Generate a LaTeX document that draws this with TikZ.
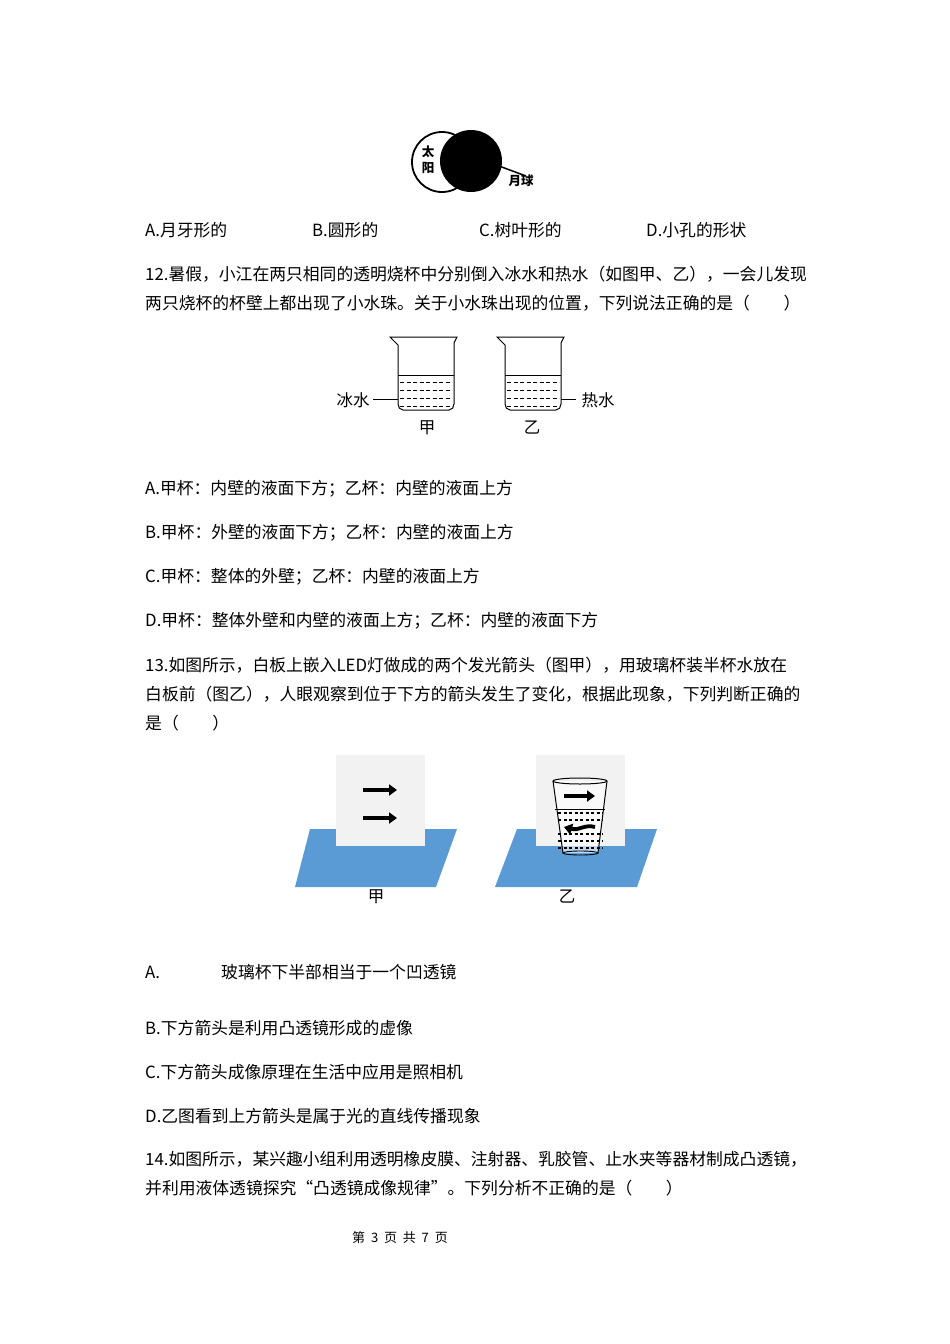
\documentclass[tikz,border=0pt]{standalone}
\usepackage{fontspec}
\setmainfont{Noto Sans CJK SC}
\usetikzlibrary{arrows.meta}
\definecolor{plane}{HTML}{5B9BD5}
\definecolor{board}{HTML}{F2F2F2}
\begin{document}
\begin{tikzpicture}[x=1pt,y=-1pt,
 txt/.style={anchor=west,inner sep=0pt,font=\fontsize{16.8}{16.8}\selectfont},
 lbl/.style={inner sep=0pt,font=\fontsize{16.5}{16.5}\selectfont},
 arr/.style={line width=3.8pt,-{Triangle[length=8pt,width=11pt]}}]
\useasboundingbox[fill=white] (0,0) rectangle (950,1344);
% sun & moon
\draw[line width=1.8pt,fill=white] (442,162) circle (30);
\fill (471,161) circle (31);
\draw[line width=1.5pt] (499,166) -- (526,176);
\node[lbl,font=\fontsize{12.5}{12.5}\selectfont\bfseries] (s1) at (428,152) {太};
\node[lbl,font=\fontsize{12.5}{12.5}\selectfont\bfseries] (s2) at (428,168) {阳};
\node[lbl,font=\fontsize{12.5}{12.5}\selectfont\bfseries] (m) at (521,181) {月球};
\node[txt] (a11) at (145,230) {A.月牙形的};
\node[txt] (b11) at (312,230) {B.圆形的};
\node[txt] (c11) at (479,230) {C.树叶形的};
\node[txt] (d11) at (646,230) {D.小孔的形状};
\node[txt] (q12a) at (145,274) {12.暑假，小江在两只相同的透明烧杯中分别倒入冰水和热水（如图甲、乙），一会儿发现};
\node[txt] (q12b) at (145,303) {两只烧杯的杯壁上都出现了小水珠。关于小水珠出现的位置，下列说法正确的是（\hspace{2em}）};
% beakers
\foreach \o in {0,107}{
 \begin{scope}[xshift=\o]
 \draw[line width=1pt] (390,337) -- (457,337) -- (454,343) -- (454,404) to[out=-90,in=0] (449,410) -- (403,410) to[out=180,in=-90] (398,404) -- (398,345) -- cycle;
 \draw[line width=1pt] (398,375) -- (454,375);
 \foreach \y in {382,390,398,406}{\draw[dashed,dash pattern=on 4pt off 2.5pt,line width=0.8pt] (400,\y) -- (452,\y);}
 \end{scope}}
\coordinate (ci) at (373,399); \coordinate (cb) at (398,399);
\draw[line width=0.9pt] (ci) -- (cb);
\coordinate (hi) at (561,399); \coordinate (hb) at (576,399);
\draw[line width=0.9pt] (hi) -- (hb);
\node[lbl] (bw) at (353,400) {冰水};
\node[lbl] (hw) at (598,400) {热水};
\node[lbl] (j1) at (427,428) {甲};
\node[lbl] (y1) at (532,428) {乙};
\node[txt] (a12) at (145,489) {A.甲杯：内壁的液面下方；乙杯：内壁的液面上方};
\node[txt] (b12) at (145,533) {B.甲杯：外壁的液面下方；乙杯：内壁的液面上方};
\node[txt] (c12) at (145,577) {C.甲杯：整体的外壁；乙杯：内壁的液面上方};
\node[txt] (d12) at (145,621) {D.甲杯：整体外壁和内壁的液面上方；乙杯：内壁的液面下方};
\node[txt] (q13a) at (145,665) {13.如图所示，白板上嵌入LED灯做成的两个发光箭头（图甲），用玻璃杯装半杯水放在};
\node[txt] (q13b) at (145,694) {白板前（图乙），人眼观察到位于下方的箭头发生了变化，根据此现象，下列判断正确的};
\node[txt] (q13c) at (145,723) {是（\hspace{2em}）};
% boards
\fill[plane] (310,829) -- (457,829) -- (436,887) -- (295,887) -- cycle;
\fill[board] (336,755) rectangle (425,846);
\draw[arr] (363,790) -- (397,790);
\draw[arr] (363,818) -- (397,818);
\fill[plane] (517,829) -- (657,829) -- (637,887) -- (495,887) -- cycle;
\fill[board] (536,755) rectangle (625,846);
\fill[white,opacity=0.6] (553,781) -- (563,853) -- (598,853) -- (607,781) -- cycle;
\foreach \y in {813,820,834,841,848}{\draw[dashed,dash pattern=on 3pt off 2.5pt,line width=1.1pt] (558,\y) -- (603,\y);}
\draw[line width=1pt] (553,781) -- (563,853);
\draw[line width=1pt] (607,781) -- (598,853);
\draw[line width=1pt] (580,781) ellipse (27 and 3);
\draw[line width=0.9pt] (580.5,853) ellipse (17.5 and 2);
\draw[line width=0.8pt] (555,809) -- (605,809);
\draw[arr] (564,796) -- (595,796);
\draw[line width=3.8pt,-{Triangle[length=8pt,width=11pt]}] (595,827) .. controls (585,824) and (578,831) .. (564,827);
\node[lbl] (j2) at (376,897) {甲};
\node[lbl] (y2) at (567,897) {乙};
\node[txt] (a13) at (145,972) {A.};
\node[txt] (a13t) at (221,972) {玻璃杯下半部相当于一个凹透镜};
\node[txt] (b13) at (145,1028) {B.下方箭头是利用凸透镜形成的虚像};
\node[txt] (c13) at (145,1072) {C.下方箭头成像原理在生活中应用是照相机};
\node[txt] (d13) at (145,1116) {D.乙图看到上方箭头是属于光的直线传播现象};
\node[txt] (q14a) at (145,1159) {14.如图所示，某兴趣小组利用透明橡皮膜、注射器、乳胶管、止水夹等器材制成凸透镜，};
\node[txt] (q14b) at (145,1188) {并利用液体透镜探究“凸透镜成像规律”。下列分析不正确的是（\hspace{2em}）};
\node[lbl,font=\fontsize{13}{13}\selectfont] (ft) at (400,1238) {第\ \ 3\ \ 页\ \ 共\ \ 7\ \ 页};
\end{tikzpicture}
\end{document}
